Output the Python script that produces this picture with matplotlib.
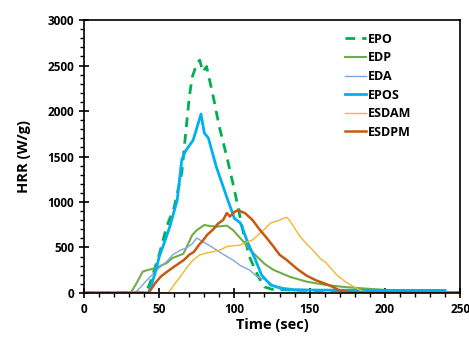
import matplotlib
matplotlib.use("Agg")
import matplotlib.pyplot as plt
from matplotlib.ticker import MultipleLocator

plt.rcParams['font.family'] = ['Open Sans', 'DejaVu Sans']
plt.rcParams['font.weight'] = 'bold'

# EPO (dashed green)
epo_t = [0, 41, 44, 50, 55, 60, 65, 70, 72, 75, 77, 79, 81.5, 86, 90, 95, 100, 106, 110, 116, 120, 125, 140, 170, 200, 220]
epo_v = [0, 0, 110, 420, 730, 945, 1318, 2154, 2375, 2520, 2560, 2430, 2490, 2154, 1824, 1495, 1132, 659, 396, 176, 66, 40, 30, 25, 20, 15]

# EDP (green)
edp_t = [0, 31, 34, 37, 39, 42, 48, 55, 59, 66, 68, 72, 75, 80, 84, 88, 92, 95, 99, 106, 110, 115, 120, 126, 137, 148, 160, 170, 185, 200, 220, 240]
edp_v = [0, 0, 80, 170, 234, 250, 275, 330, 385, 430, 494, 637, 690, 747, 735, 729, 735, 740, 692, 564, 480, 399, 320, 253, 176, 124, 90, 70, 50, 33, 25, 20]

# EDA (light blue)
eda_t = [0, 34, 38, 42, 46, 50, 55, 59, 64, 68, 72, 75, 79, 84, 88, 93, 99, 104, 110, 115, 121, 126, 132, 139, 150, 180, 210, 240]
eda_v = [0, 0, 70, 143, 210, 275, 345, 418, 470, 494, 540, 604, 564, 515, 473, 420, 363, 300, 253, 180, 143, 80, 60, 45, 35, 30, 28, 28]

# EPOS (blue)
epos_t = [0, 43, 47, 50, 54, 57, 62, 65, 67.5, 72.6, 76, 77.8, 80, 82.7, 88, 95, 100, 104, 109, 114, 118, 124, 132, 140, 170, 200, 240]
epos_v = [0, 0, 200, 396, 580, 725, 1022, 1462, 1560, 1681, 1868, 1967, 1758, 1703, 1385, 1050, 820, 769, 549, 363, 198, 88, 44, 32, 30, 28, 28]

# ESDAM (yellow)
esdam_t = [0, 56, 60, 64, 68, 72.6, 77, 82, 86, 90, 95, 100, 104, 108, 112, 116, 120, 124, 127, 130, 133, 135, 137, 139, 143.6, 148, 152, 157, 161, 168, 174, 179, 185.5, 195, 220, 250]
esdam_v = [0, 0, 90, 179, 270, 363, 418, 440, 454, 470, 509, 520, 527, 560, 582, 640, 700, 769, 784, 800, 824, 830, 790, 740, 619, 540, 473, 380, 330, 198, 120, 70, 15, 10, 10, 10]

# ESDPM (orange)
esdpm_t = [0, 43, 47, 51, 55, 60, 66.5, 70, 73, 77, 78.5, 82, 86, 89, 92.5, 95, 97, 100, 102.7, 105, 107, 112, 117, 121.5, 126, 130, 134.7, 137, 142, 148, 154, 159, 165, 170, 180, 250]
esdpm_v = [0, 0, 100, 179, 230, 289, 363, 420, 450, 540, 564, 640, 700, 760, 802, 879, 840, 890, 912, 890, 879, 802, 692, 604, 509, 420, 363, 330, 260, 190, 140, 110, 70, 25, 5, 5]

series = [
    ("EPO", epo_t, epo_v, "#00B050", 2.0, (0, (3.5, 2.5))),
    ("EDP", edp_t, edp_v, "#70AD47", 1.5, "-"),
    ("EDA", eda_t, eda_v, "#7FA6D9", 1.0, "-"),
    ("EPOS", epos_t, epos_v, "#00B0F0", 2.0, "-"),
    ("ESDAM", esdam_t, esdam_v, "#F2B632", 1.0, "-"),
    ("ESDPM", esdpm_t, esdpm_v, "#C55A11", 1.8, "-"),
]

fig = plt.figure(figsize=(4.69, 3.41), dpi=100)
ax = fig.add_axes([0.179, 0.141, 0.802, 0.800])

for name, t, v, c, lw, ls in series:
    ax.plot(t, v, color=c, lw=lw, linestyle=ls, label=name)

ax.set_xlim(0, 250)
ax.set_ylim(0, 3000)
ax.xaxis.set_major_locator(MultipleLocator(50))
ax.xaxis.set_minor_locator(MultipleLocator(10))
ax.yaxis.set_major_locator(MultipleLocator(500))
ax.yaxis.set_minor_locator(MultipleLocator(100))
ax.tick_params(which='major', direction='inout', length=7, width=1.2, labelsize=8.5, colors='black')
ax.tick_params(which='minor', direction='out', length=3, width=1.0)
for lab in ax.get_xticklabels() + ax.get_yticklabels():
    lab.set_fontweight('bold')
for s in ax.spines.values():
    s.set_linewidth(1.2)

ax.set_xlabel("Time (sec)", fontsize=10.5, fontweight='bold', labelpad=2)
ax.set_ylabel("HRR (W/g)", fontsize=10.5, fontweight='bold', labelpad=12)

leg = ax.legend(loc='upper left', frameon=False, fontsize=9, handlelength=1.7,
                handletextpad=0.1, labelspacing=0.45, borderpad=0, borderaxespad=0,
                bbox_to_anchor=(0.694, 0.954))
for txt in leg.get_texts():
    txt.set_fontweight('bold')

fig.savefig("out.png", dpi=100)
